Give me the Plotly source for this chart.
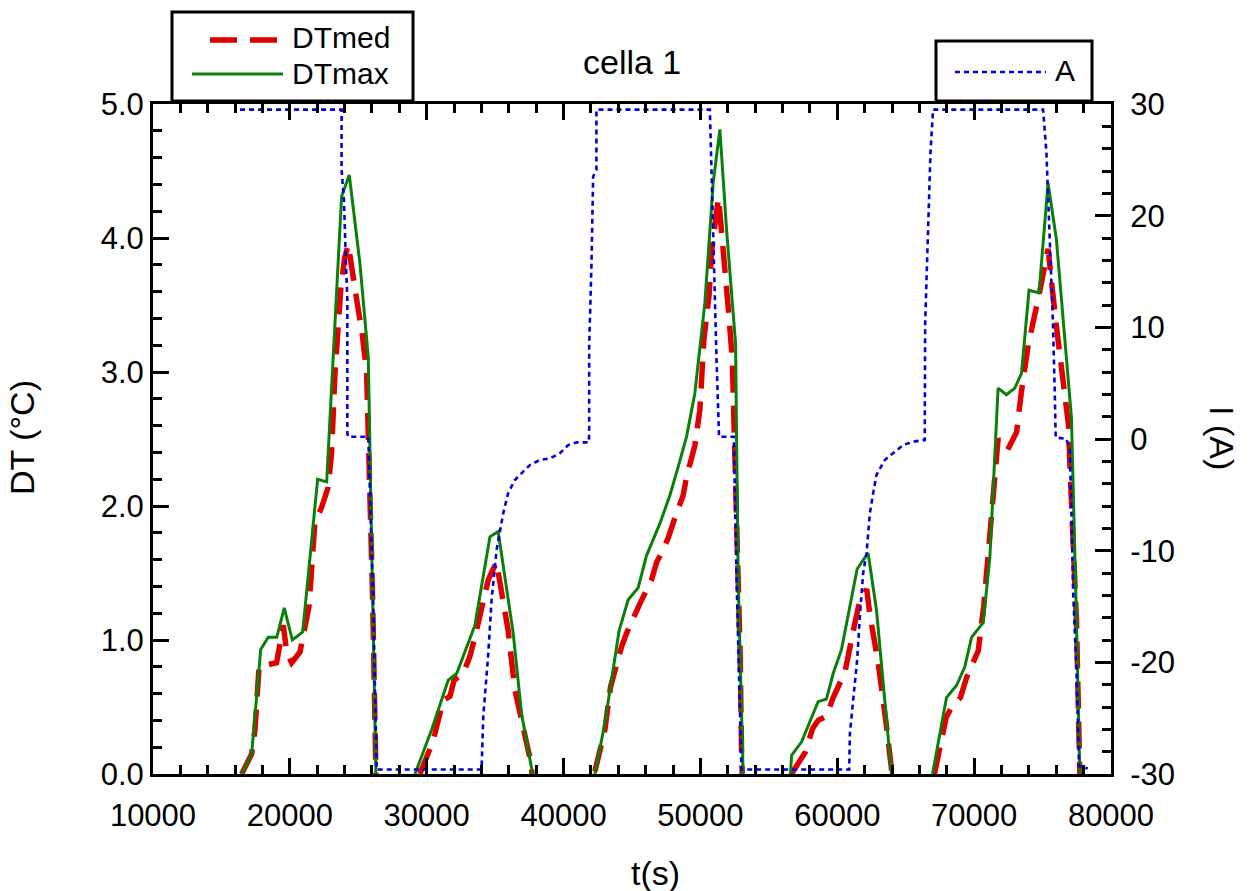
import plotly.graph_objects as go

# ---------------- data ----------------
# None separates the five heating cycles
t_max = [16480, 17210, 17870, 18420, 19040, 19590, 20180, 20940, 22030, 22690, 23780, 24340, 25120, 25730, 26050, 26290, None,
         29140, 30360, 31570, 32190, 33520, 34620, 35220, 36320, 36930, 37740, None,
         42290, 43020, 44060, 44720, 45450, 46060, 47040, 47770, 48370, 48990, 49590, 50320, 50930, 51420, 51910, 52570, 52640, 52760, 53120, None,
         56580, 56660, 57390, 58600, 59210, 59700, 60310, 61450, 62250, 62870, 63960, None,
         66960, 67980, 68710, 69320, 69810, 70660, 71150, 71750, 72360, 72970, 73460, 74010, 74740, 75400, 76010, 77110, 77480, 77720]
dt_max = [0.0, 0.15, 0.93, 1.02, 1.02, 1.24, 1.00, 1.06, 2.20, 2.18, 4.31, 4.47, 3.81, 3.11, 1.30, 0.0, None,
          0.0, 0.33, 0.70, 0.75, 1.11, 1.77, 1.81, 1.05, 0.45, 0.0, None,
          0.0, 0.38, 1.07, 1.30, 1.39, 1.63, 1.87, 2.08, 2.29, 2.52, 2.84, 3.51, 4.41, 4.81, 4.06, 3.21, 2.52, 1.45, 0.0, None,
          0.0, 0.14, 0.24, 0.54, 0.56, 0.75, 0.93, 1.53, 1.65, 1.22, 0.0, None,
          0.0, 0.57, 0.66, 0.80, 1.02, 1.13, 1.62, 2.88, 2.83, 2.88, 2.99, 3.61, 3.59, 4.41, 3.99, 2.66, 1.13, 0.0]

t_med = [16480, 17210, 17450, 17750, 19030, 19520, 19770, 20130, 20740, 21100, 21400, 21830, 22320, 22800, 23050, 23300, 23730, 24000, 24270, 24760, 25290, 25610, 25730, 26050, 26290, None,
         29500, 30480, 30840, 31210, 31700, 32000, 32670, 33160, 33520, 33890, 34500, 35100, 35590, 35950, 36440, 36810, 37170, 37540, 37700, None,
         42290, 42650, 43020, 43430, 43820, 44240, 44600, 45090, 45570, 46430, 46800, 47160, 47640, 48130, 48740, 48990, 49590, 49960, 50080, 50260, 50630, 50810, 51180, 51330, 51550, 51840, 52090, 52330, 52450, 52640, 52760, 52900, 53000, 53050, None,
         56650, 57650, 58200, 58600, 59200, 59700, 60560, 60800, 61270, 61600, 62150, 62380, 63000, 63580, 64000, None,
         67100, 67700, 67950, 68400, 69000, 69450, 69950, 70300, 70700, 71150, 71750, 72450, 73100, 73450, 73950, 74750, 75400, 76000, 76500, 76900, 77000, 77480, 77720]
dt_med = [0.0, 0.15, 0.33, 0.80, 0.83, 1.11, 0.91, 0.83, 0.91, 1.08, 1.25, 1.88, 1.99, 2.14, 2.40, 3.00, 3.63, 3.85, 3.95, 3.62, 3.28, 3.00, 2.60, 1.30, 0.0, None,
          0.0, 0.25, 0.40, 0.55, 0.58, 0.70, 0.75, 0.88, 1.02, 1.20, 1.45, 1.58, 1.26, 1.07, 0.63, 0.45, 0.31, 0.12, 0.0, None,
          0.02, 0.18, 0.33, 0.65, 0.81, 0.95, 1.05, 1.15, 1.27, 1.45, 1.58, 1.65, 1.76, 1.91, 2.08, 2.22, 2.45, 2.72, 2.94, 3.25, 3.57, 3.89, 4.20, 4.30, 4.04, 3.73, 3.41, 3.09, 2.60, 2.10, 1.50, 0.90, 0.20, 0.0, None,
          0.0, 0.16, 0.34, 0.40, 0.43, 0.57, 0.76, 0.90, 1.12, 1.27, 1.38, 1.19, 0.82, 0.37, 0.0, None,
          0.0, 0.30, 0.42, 0.51, 0.57, 0.72, 0.84, 0.92, 1.25, 1.75, 2.50, 2.42, 2.55, 2.85, 3.20, 3.58, 3.92, 3.35, 2.92, 2.60, 2.30, 1.13, 0.0]

t_a = [16360, 23780, 23780, 23950, 24070, 24200, 24200, 24270, 25730, 25850, 25980, 26090, 26340,
       34010, 34130, 34500, 34740, 35110, 35590, 35950, 36440, 36810, 37540, 38270, 39000, 39730, 40340, 40950, 41850,
       41870, 41870, 42040, 42160, 42400, 42400, 50690, 50810, 51050, 51170, 51360, 52440, 52640, 52880, 53000,
       60870, 60920, 61160, 61450, 61650, 61890, 62140, 62380, 62620, 62870, 63470, 64080, 64810, 65540, 66390,
       66420, 66630, 66810, 67000, 75040, 75280, 75400, 75650, 75760, 75890, 75960, 76750, 76990, 77110, 77230, 77480, 77670, 78300]
i_a = [29.5, 29.5, 24.1, 21.4, 16.9, 12.4, 0.5, 0.2, 0.2, -4.1, -10.1, -14.6, -29.6,
       -29.6, -24.9, -19.2, -14.4, -9.9, -6.65, -4.86, -3.67, -3.22, -2.33, -1.88, -1.73, -1.28, -0.54, -0.3, -0.3,
       0.5, 8.3, 15.7, 23.5, 24.1, 29.5, 29.5, 23.5, 13.3, 7.4, 0.2, 0.2, -12.6, -24.6, -29.6,
       -29.6, -26.4, -23.4, -19.8, -15.9, -12.0, -10.2, -6.65, -4.86, -3.2, -1.88, -1.28, -0.54, -0.24, -0.09,
       10.3, 18.6, 25.7, 29.5, 29.5, 25.7, 22.1, 15.0, 10.3, 4.25, 0.14, 0.0, -1.1, -6.45, -13.6, -20.8, -29.3, -29.5]

x_ticks = [10000, 20000, 30000, 40000, 50000, 60000, 70000, 80000]
y_ticks = [0.0, 1.0, 2.0, 3.0, 4.0, 5.0]
y2_ticks = [-30, -20, -10, 0, 10, 20, 30]
y2_ticktext = [str(v) for v in y2_ticks]

FONT = "Liberation Sans, Arial, Helvetica, sans-serif"
FS_TICK = 31
FS_TITLE = 34
FS_LEG = 30

RED, GREEN, BLUE = "#E00000", "#0A800A", "#0000DD"
RED_DASH, BLUE_DASH = "27px,13px", "5px,4px"

# plot area in pixels (for placing decorations)
L, R, T, B = 153, 1111, 104, 774
def px(x):
    return (x - L) / (R - L)
def py(y):
    return (B - y) / (B - T)

fig = go.Figure()
fig.add_trace(go.Scatter(x=t_med, y=dt_med, name="DTmed", mode="lines", connectgaps=False,
                         line=dict(color=RED, width=5.5, dash=RED_DASH)))
fig.add_trace(go.Scatter(x=t_max, y=dt_max, name="DTmax", mode="lines", connectgaps=False,
                         line=dict(color=GREEN, width=3)))
fig.add_trace(go.Scatter(x=t_a, y=i_a, name="A", mode="lines", yaxis="y2",
                         line=dict(color=BLUE, width=2.6, dash=BLUE_DASH)))

tick_common = dict(ticks="inside", ticklen=16, tickwidth=2.5, tickcolor="black",
                   showline=True, linewidth=3, linecolor="black", showgrid=False, zeroline=False,
                   tickfont=dict(family=FONT, size=FS_TICK, color="black"))

# legend boxes drawn as decorations (two separate framed legends as in the reference)
shapes = [
    dict(type="rect", xref="paper", yref="paper", x0=px(172), x1=px(413), y0=py(101), y1=py(12),
         line=dict(color="black", width=3), fillcolor="white", layer="above"),
    dict(type="line", xref="paper", yref="paper", x0=px(210), x1=px(279), y0=py(40), y1=py(40),
         line=dict(color=RED, width=5.5, dash=RED_DASH), layer="above"),
    dict(type="line", xref="paper", yref="paper", x0=px(192), x1=px(283), y0=py(74), y1=py(74),
         line=dict(color=GREEN, width=3), layer="above"),
    dict(type="rect", xref="paper", yref="paper", x0=px(936), x1=px(1092), y0=py(101), y1=py(41),
         line=dict(color="black", width=3), fillcolor="white", layer="above"),
    dict(type="line", xref="paper", yref="paper", x0=px(955), x1=px(1046), y0=py(72), y1=py(72),
         line=dict(color=BLUE, width=2.6, dash=BLUE_DASH), layer="above"),
]

annotations = [
    dict(text="DTmed", x=px(290), y=py(38), xref="paper", yref="paper", showarrow=False,
         xanchor="left", yanchor="middle", font=dict(size=FS_LEG)),
    dict(text="DTmax", x=px(290), y=py(73), xref="paper", yref="paper", showarrow=False,
         xanchor="left", yanchor="middle", font=dict(size=FS_LEG)),
    dict(text="A", x=px(1053), y=py(70), xref="paper", yref="paper", showarrow=False,
         xanchor="left", yanchor="middle", font=dict(size=FS_LEG)),
    dict(text="cella 1", x=px(632), y=py(62), xref="paper", yref="paper",
         showarrow=False, xanchor="center", yanchor="middle", font=dict(size=FS_TITLE)),
    dict(text="t(s)", x=px(655), y=py(873), xref="paper", yref="paper",
         showarrow=False, xanchor="center", yanchor="middle", font=dict(size=FS_TITLE)),
    dict(text="DT (°C)", x=px(22), y=py(438), xref="paper", yref="paper",
         showarrow=False, xanchor="center", yanchor="middle", textangle=-90, font=dict(size=FS_TITLE)),
    dict(text="I (A)", x=px(1222), y=py(438), xref="paper", yref="paper",
         showarrow=False, xanchor="center", yanchor="middle", textangle=90, font=dict(size=FS_TITLE)),
]

fig.update_layout(
    width=1255, height=891,
    margin=dict(l=L, r=1255 - R, t=T, b=891 - B),
    paper_bgcolor="white", plot_bgcolor="white",
    font=dict(family=FONT, size=FS_TICK, color="black"),
    showlegend=False,
    xaxis=dict(range=[10000, 80000], tickvals=x_ticks, tickformat="d", mirror="ticks", ticklabelstandoff=12,
               minor=dict(ticks="inside", ticklen=9, tickwidth=2.5, tickcolor="black", dtick=2000, tick0=10000),
               **tick_common),
    yaxis=dict(range=[0, 5], tickvals=y_ticks, tickformat=".1f",
               minor=dict(ticks="inside", ticklen=9, tickwidth=2.5, tickcolor="black", dtick=0.2, tick0=0),
               **tick_common),
    yaxis2=dict(range=[-30, 30], overlaying="y", side="right", tickvals=y2_ticks, ticktext=y2_ticktext,
                ticklabelstandoff=10,
                minor=dict(ticks="inside", ticklen=9, tickwidth=2.5, tickcolor="black", dtick=2, tick0=0),
                **tick_common),
    shapes=shapes,
    annotations=annotations,
)

fig.write_html("out.html")
